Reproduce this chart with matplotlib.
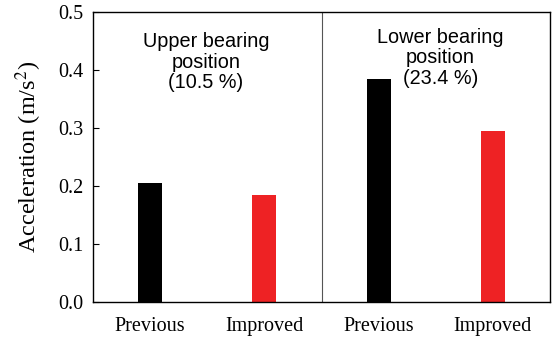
import matplotlib
matplotlib.use("Agg")
import matplotlib.pyplot as plt

# Data
groups = ["Previous", "Improved", "Previous", "Improved"]
acceleration = [0.205, 0.185, 0.385, 0.295]
bar_colors = ["#000000", "#ee2224", "#000000", "#ee2224"]
notes = ["Upper bearing\nposition\n(10.5 %)", "Lower bearing\nposition\n(23.4 %)"]
note_x = [0.49, 2.54]
note_y = [0.465, 0.473]
yticks = [0.0, 0.1, 0.2, 0.3, 0.4, 0.5]

plt.rcParams["mathtext.fontset"] = "stix"

fig = plt.figure(figsize=(5.55, 3.39), dpi=100)
ax = fig.add_axes([0.1676, 0.109, 0.8234, 0.8556])

x = range(len(groups))
ax.bar(x, acceleration, width=0.21, color=bar_colors)

# divider between the two bearing positions
ax.axvline(1.5, color="#555555", linewidth=0.8)

for tx, ty, txt in zip(note_x, note_y, notes):
    ax.text(tx, ty, txt, ha="center", va="top", fontsize=14.3,
            family="Liberation Sans", linespacing=1.1)

ax.set_xlim(-0.5, 3.5)
ax.set_ylim(0, 0.5)
ax.set_xticks(list(x))
ax.set_xticklabels(groups, family="Liberation Serif", fontsize=14.5)
ax.set_yticks(yticks)
ax.set_yticklabels([f"{v:.1f}" for v in yticks], family="Liberation Serif", fontsize=14.5)
ax.tick_params(axis="y", direction="in", length=4, width=0.8, pad=7)
ax.tick_params(axis="x", length=0, pad=11)
ax.set_ylabel("Acceleration (m/s$^2$)", family="Liberation Serif", fontsize=17.5, labelpad=10)

for sp in ax.spines.values():
    sp.set_linewidth(1.0)

fig.savefig("out.png", dpi=100)
